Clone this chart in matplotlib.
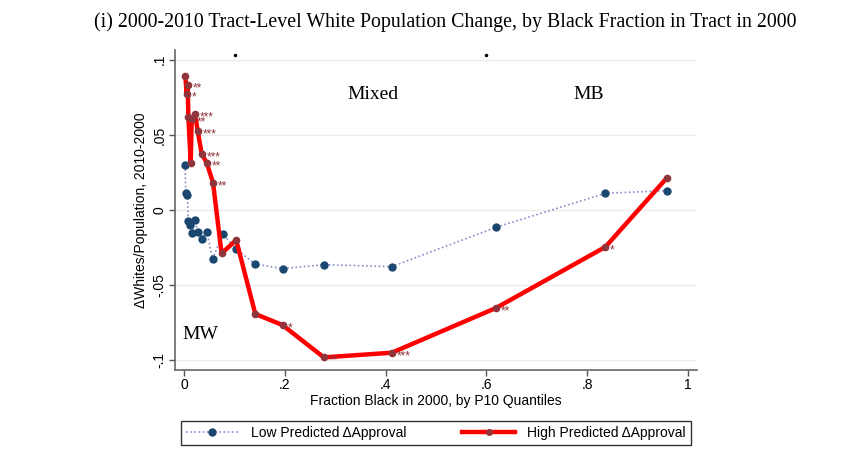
import matplotlib
matplotlib.use("Agg")
import matplotlib.pyplot as plt
from matplotlib.lines import Line2D

# ---- data ----
low_x = [0.0014, 0.003, 0.006, 0.008, 0.011, 0.016, 0.021, 0.027, 0.035, 0.045,
         0.056, 0.076, 0.103, 0.141, 0.195, 0.277, 0.412, 0.619, 0.836, 0.958]
low_y = [0.030, 0.0115, 0.0098, -0.0073, -0.0098, -0.015, -0.0067, -0.0149, -0.019, -0.0146,
         -0.0328, -0.016, -0.026, -0.036, -0.039, -0.0364, -0.0377, -0.0115, 0.0111, 0.0129]

high_x = [0.002, 0.0047, 0.0067, 0.008, 0.0127, 0.0146, 0.021, 0.0266, 0.0345, 0.0444,
          0.057, 0.074, 0.103, 0.141, 0.195, 0.277, 0.412, 0.619, 0.836, 0.958]
high_y = [0.0892, 0.0775, 0.083, 0.0621, 0.0313, 0.0604, 0.0639, 0.0528, 0.0373, 0.0315,
          0.0182, -0.0289, -0.020, -0.0692, -0.0766, -0.0981, -0.095, -0.0652, -0.0246, 0.0213]
high_stars = ["", "*", "**", "", "", "**", "***", "***", "***", "**",
              "**", "", "", "", "*", "**", "***", "**", "*", ""]

region_labels = ["Mixed", "MB", "MW"]
region_x = [0.375, 0.802, 0.031]
region_y = [0.0772, 0.0772, -0.0832]

top_dot_x = [0.1, 0.6]

xticks = [0, 0.2, 0.4, 0.6, 0.8, 1.0]
xtick_labels = ["0", ".2", ".4", ".6", ".8", "1"]
yticks = [-0.1, -0.05, 0, 0.05, 0.1]
ytick_labels = ["-.1", "-.05", "0", ".05", ".1"]

title = "(i) 2000-2010 Tract-Level White Population Change, by Black Fraction in Tract in 2000"
xlabel = "Fraction Black in 2000, by P10 Quantiles"
ylabel = "\u0394Whites/Population, 2010-2000"
legend_labels = ["Low Predicted \u0394Approval", "High Predicted \u0394Approval"]

# ---- style ----
navy = "#1a476f"
maroon = "#90353b"
dotted_col = "#8a8ad0"
sans = ["Liberation Sans", "DejaVu Sans"]
serif = ["Liberation Serif", "DejaVu Serif"]

fig = plt.figure(figsize=(8.59, 4.74), dpi=100)
ax = fig.add_axes([175/859, 1-370/474, (697-175)/859, (370-50)/474])

for yt in yticks:
    ax.axhline(yt, color="#ececec", lw=1.0, zorder=0)

ax.plot(low_x, low_y, linestyle=(0, (1, 1.5)), color=dotted_col, lw=1.2,
        marker="o", ms=5.0, mfc=navy, mec=navy, zorder=2)
ax.plot(high_x, high_y, linestyle="-", color="#ff0000", lw=3.2,
        marker="o", ms=4.5, mfc=maroon, mec=maroon, zorder=3)

for x, y, s in zip(high_x, high_y, high_stars):
    if s:
        ax.annotate(s, (x, y), xytext=(3.5, -2.5), textcoords="offset points",
                    ha="left", va="center", fontsize=8.5, color=maroon,
                    family=sans, zorder=4)

for t, x, y in zip(region_labels, region_x, region_y):
    ax.text(x, y, t, ha="center", va="center", fontsize=14, family=serif)

ax.plot(top_dot_x, [0.1035] * len(top_dot_x), linestyle="none", marker="o",
        ms=1.5, color="black", clip_on=False)

ax.set_xlim(-0.0185, 1.018)
ax.set_ylim(-0.1065, 0.1065)
ax.set_xticks(xticks)
ax.set_xticklabels(xtick_labels, family=sans, fontsize=10)
ax.set_yticks(yticks)
ax.set_yticklabels(ytick_labels, family=sans, fontsize=10, rotation=90, va="center")
ax.tick_params(axis="both", length=4, width=1, color="#555555", pad=2)
for sp in ["top", "right"]:
    ax.spines[sp].set_visible(False)
for sp in ["left", "bottom"]:
    ax.spines[sp].set_color("#666666")
    ax.spines[sp].set_linewidth(1.2)

ax.set_xlabel(xlabel, family=sans, fontsize=10, labelpad=1)
ax.set_ylabel(ylabel, family=sans, fontsize=10, labelpad=3)

fig.text(445/859, 1-22/474, title, ha="center", va="center", fontsize=14.3, family=serif)

handles = [
    Line2D([], [], linestyle=(0, (1, 1.5)), color=dotted_col, lw=1.2, marker="o",
           ms=5.0, mfc=navy, mec=navy),
    Line2D([], [], linestyle="-", color="#ff0000", lw=3.2, marker="o",
           ms=4.0, mfc=maroon, mec=maroon),
]
leg = fig.legend(handles, legend_labels, loc="center", ncol=2,
                 bbox_to_anchor=(436/859, 1-433/474), frameon=True, fancybox=False,
                 edgecolor="black", prop={"family": sans, "size": 10},
                 handlelength=3.8, columnspacing=4.0, borderpad=0.35, handletextpad=0.9)
leg.get_frame().set_linewidth(1.0)

fig.savefig("out.png", dpi=100)
